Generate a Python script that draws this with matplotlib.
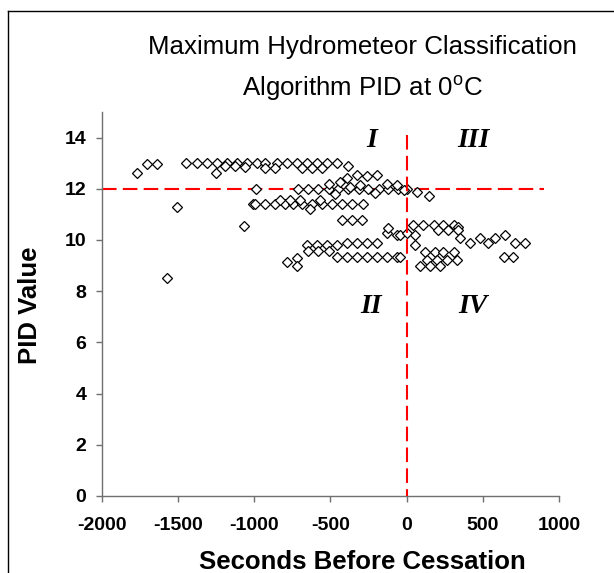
import matplotlib
matplotlib.use("Agg")
import matplotlib.pyplot as plt
from matplotlib.lines import Line2D

plt.rcParams['font.family'] = ['Liberation Sans', 'DejaVu Sans']
plt.rcParams['axes.unicode_minus'] = False

# ---- data (seconds before cessation, PID value) ----
sec_row13 = [-1766, -1704, -1634, -1446, -1376, -1310, -1245, -1179, -1110, -1048, -982,
             -928, -851, -785, -720, -654, -588, -523, -457,
             -1249, -1190, -1125, -1059, -928, -862, -687, -621, -556]
pid_row13 = [12.6, 12.95, 12.95, 13.0, 13.0, 13.0, 13.0, 13.0, 13.0, 13.0, 13.0,
             13.0, 13.0, 13.0, 13.0, 13.0, 13.0, 13.0, 13.0,
             12.6, 12.9, 12.9, 12.85, 12.8, 12.8, 12.8, 12.8, 12.8]

sec_row12 = [-991, -709, -644, -578, -512, -447, -381, -315, -250, -184, -119, -53, 2,
             -512, -436, -392, -326, -261, -195, -381, -370, -304, -206, -129, -64, -469,
             -20, 68, 144]
pid_row12 = [12.0, 12.0, 12.0, 12.0, 12.0, 12.0, 12.0, 12.0, 12.0, 12.0, 12.0, 12.0, 12.0,
             12.2, 12.28, 12.41, 12.54, 12.5, 12.54, 12.88, 12.08, 12.15, 11.82, 12.2, 12.15, 11.8,
             11.95, 11.89, 11.7]

sec_row11 = [-1507, -1005, -993, -928, -862, -797, -742, -687, -621, -556, -490, -425, -359, -283,
             -829, -764, -698, -567, -633, -1066, -425, -359, -293]
pid_row11 = [11.3, 11.4, 11.4, 11.4, 11.4, 11.4, 11.4, 11.4, 11.4, 11.4, 11.4, 11.4, 11.4, 11.4,
             11.56, 11.56, 11.56, 11.56, 11.2, 10.55, 10.78, 10.78, 10.78]

sec_row10 = [-654, -588, -523, -457, -644, -578, -512, -392, -326, -261, -195,
             -129, -64, -119, -42, 2, 56, 56,
             45, 111, 177, 242, 308, 340, 209, 275, 340,
             352, 417, 483, 537, 581, 647, 713, 778, 122, 187, 242, 308]
pid_row10 = [9.8, 9.8, 9.8, 9.8, 9.57, 9.57, 9.57, 9.9, 9.9, 9.9, 9.9,
             10.26, 10.2, 10.46, 10.2, 10.26, 10.2, 9.8,
             10.6, 10.6, 10.6, 10.6, 10.6, 10.5, 10.39, 10.39, 10.39,
             10.07, 9.87, 10.07, 9.87, 10.07, 10.2, 9.9, 9.9, 9.54, 9.54, 9.54, 9.54]

sec_row9 = [-457, -392, -326, -261, -195, -129, -64, -42, -785, -720, -720, -1573,
            638, 701, 133, 199, 264, 330, 89, 155, 220]
pid_row9 = [9.35, 9.35, 9.35, 9.35, 9.35, 9.35, 9.35, 9.35, 9.15, 9.28, 9.0, 8.5,
            9.35, 9.35, 9.22, 9.22, 9.22, 9.22, 9.0, 9.0, 9.0]

seconds = sec_row13 + sec_row12 + sec_row11 + sec_row10 + sec_row9
pid = pid_row13 + pid_row12 + pid_row11 + pid_row10 + pid_row9

x_ticks = [-2000, -1500, -1000, -500, 0, 500, 1000]
y_ticks = [0, 2, 4, 6, 8, 10, 12, 14]
quadrant_labels = ['I', 'III', 'II', 'IV']
quadrant_x = [-232, 437, -232, 437]
quadrant_y = [13.9, 13.9, 7.4, 7.4]
pid_threshold = 12
cessation_time = 0

W, H = 614, 573
fig = plt.figure(figsize=(W / 100, H / 100), dpi=100)
ax = fig.add_axes([101.7 / W, 1 - 496 / H, (559 - 101.7) / W, (496 - 112) / H])

ax.plot(seconds, pid, linestyle='none', marker='D', markersize=5.4,
        markerfacecolor='white', markeredgecolor='black', markeredgewidth=0.9, zorder=3)

ax.plot([-2000, 900], [pid_threshold, pid_threshold], color='#ff0000', lw=1.5,
        dashes=(7, 3), zorder=2)
ax.plot([cessation_time, cessation_time], [14.1, 0], color='#ff0000', lw=1.5,
        dashes=(7, 3), zorder=4)

for lab, qx, qy in zip(quadrant_labels, quadrant_x, quadrant_y):
    ax.text(qx, qy, lab, family='Liberation Serif', fontweight='bold', style='italic',
            fontsize=20, ha='center', va='center')

ax.set_xlim(-2000, 1000)
ax.set_ylim(0, 15)
ax.set_xticks(x_ticks)
ax.set_yticks(y_ticks)
for s in ['top', 'right']:
    ax.spines[s].set_visible(False)
for s in ['left', 'bottom']:
    ax.spines[s].set_color('#707070')
    ax.spines[s].set_linewidth(1.0)
ax.tick_params(direction='out', length=4, width=1.0, color='#707070', labelsize=14, pad=7)
ax.tick_params(axis='x', pad=11)
for lbl in ax.get_xticklabels() + ax.get_yticklabels():
    lbl.set_fontweight('bold')

fig.text(362 / W, 1 - 562 / H, 'Seconds Before Cessation', fontsize=18.5, fontweight='bold',
         ha='center', va='center')
fig.text(30 / W, 1 - 305 / H, 'PID Value', fontsize=18.5, fontweight='bold',
         ha='center', va='center', rotation=90)

fig.text(362 / W, 1 - 47 / H, 'Maximum Hydrometeor Classification', fontsize=18.6,
         ha='center', va='center')
fig.text(362 / W, 1 - 88 / H, 'Algorithm PID at 0$^\\mathregular{o}$C', fontsize=18.6,
         ha='center', va='center')

# outer frame (left and top edges visible)
fig.add_artist(Line2D([8 / W, 8 / W], [0, 1 - 11 / H], color='black', lw=1.0,
                      transform=fig.transFigure))
fig.add_artist(Line2D([8 / W, 1], [1 - 11 / H, 1 - 11 / H], color='black', lw=1.0,
                      transform=fig.transFigure))

fig.savefig('out.png', dpi=100)
